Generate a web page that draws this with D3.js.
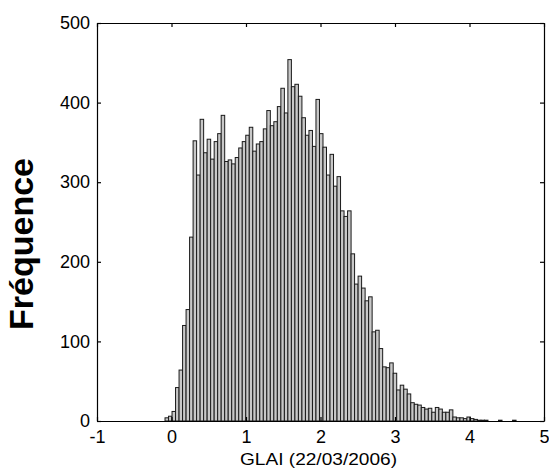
<!DOCTYPE html>
<html>
<head>
<meta charset="utf-8">
<script src="https://cdn.jsdelivr.net/npm/d3@7"></script>
<style>
  body { margin: 0; background: #fff; }
  text { font-family: "Liberation Sans", Arial, sans-serif; fill: #000; }
</style>
</head>
<body>
<div id="vis"></div>
<script>
var width  = 549;
var height = 468;
var margin = { top: 23, right: 5, bottom: 47, left: 97 };

// histogram data (100 bins between binLo and binHi)
var binLo = -0.087;
var binHi = 4.625;
var counts = [
  4, 6, 12, 42, 64, 120, 140, 231, 352, 309,
  379, 337, 354, 329, 351, 361, 384, 326, 328, 323,
  331, 343, 351, 359, 369, 339, 348, 351, 367, 390,
  371, 376, 395, 418, 387, 454, 420, 423, 408, 381,
  359, 365, 345, 404, 361, 344, 309, 335, 295, 307,
  264, 257, 264, 210, 172, 182, 167, 151, 156, 112,
  114, 91, 68, 67, 73, 60, 39, 45, 40, 34,
  23, 21, 20, 17, 15, 16, 11, 17, 15, 11,
  11, 14, 5, 4, 4, 3, 5, 3, 2, 1,
  1, 1, 0, 0, 0, 1, 0, 0, 0, 1
];
var xTicks = [-1, 0, 1, 2, 3, 4, 5];
var yTicks = [0, 100, 200, 300, 400, 500];
var xLabel = "GLAI (22/03/2006)";
var yLabel = "Fréquence";

var w = width - margin.left - margin.right;
var h = height - margin.top - margin.bottom;

var x = d3.scaleLinear().domain([-1, 5]).range([0, w]);
var y = d3.scaleLinear().domain([0, 500]).range([h, 0]);

var bins = d3.range(counts.length).map(function(i) {
  var step = (binHi - binLo) / counts.length;
  return { x0: binLo + i * step, x1: binLo + (i + 1) * step, n: counts[i] };
});

var svg = d3.select("#vis").append("svg")
  .attr("width", width)
  .attr("height", height);

var g = svg.append("g")
  .attr("transform", "translate(" + margin.left + "," + margin.top + ")");

// bars
g.selectAll("rect.bar")
  .data(bins.filter(function(d) { return d.n > 0; }))
  .enter().append("rect")
  .attr("class", "bar")
  .attr("x", function(d) { return x(d.x0); })
  .attr("width", function(d) { return x(d.x1) - x(d.x0); })
  .attr("y", function(d) { return y(d.n); })
  .attr("height", function(d) { return h - y(d.n); })
  .style("fill", "#c8c8c8")
  .style("stroke", "#1a1a1a")
  .style("stroke-width", 1);

// box + inward ticks, matlab style
var fmt = function(d) { return String(d); };
var tickLen = 4;

var xAxis = g.append("g")
  .attr("transform", "translate(0," + h + ")")
  .call(d3.axisBottom(x).tickValues(xTicks).tickFormat(fmt).tickSizeInner(-tickLen).tickSizeOuter(0).tickPadding(10));
var xTop = g.append("g")
  .call(d3.axisTop(x).tickValues(xTicks).tickFormat("").tickSizeInner(-tickLen).tickSizeOuter(0));
var yAxis = g.append("g")
  .call(d3.axisLeft(y).tickValues(yTicks).tickFormat(fmt).tickSizeInner(-tickLen).tickSizeOuter(0).tickPadding(7));
var yRight = g.append("g")
  .attr("transform", "translate(" + w + ",0)")
  .call(d3.axisRight(y).tickValues(yTicks).tickFormat("").tickSizeInner(-tickLen).tickSizeOuter(0));

[xAxis, xTop, yAxis, yRight].forEach(function(a) {
  a.selectAll("path, line").style("stroke", "#000").style("stroke-width", 1.2);
  a.selectAll("text").style("font-size", "18px").style("fill", "#000");
});
xAxis.selectAll("text").attr("dy", "0.68em");

// axis labels
svg.append("text")
  .attr("x", margin.left + w / 2 - 2)
  .attr("y", 465)
  .attr("text-anchor", "middle")
  .attr("textLength", 157)
  .attr("lengthAdjust", "spacingAndGlyphs")
  .style("font-size", "16px")
  .text(xLabel);

svg.append("text")
  .attr("transform", "translate(33," + (margin.top + h / 2 + 22) + ")rotate(-90)")
  .attr("text-anchor", "middle")
  .attr("textLength", 172)
  .attr("lengthAdjust", "spacingAndGlyphs")
  .style("font-size", "33px")
  .style("font-weight", "bold")
  .text(yLabel);
</script>
</body>
</html>
